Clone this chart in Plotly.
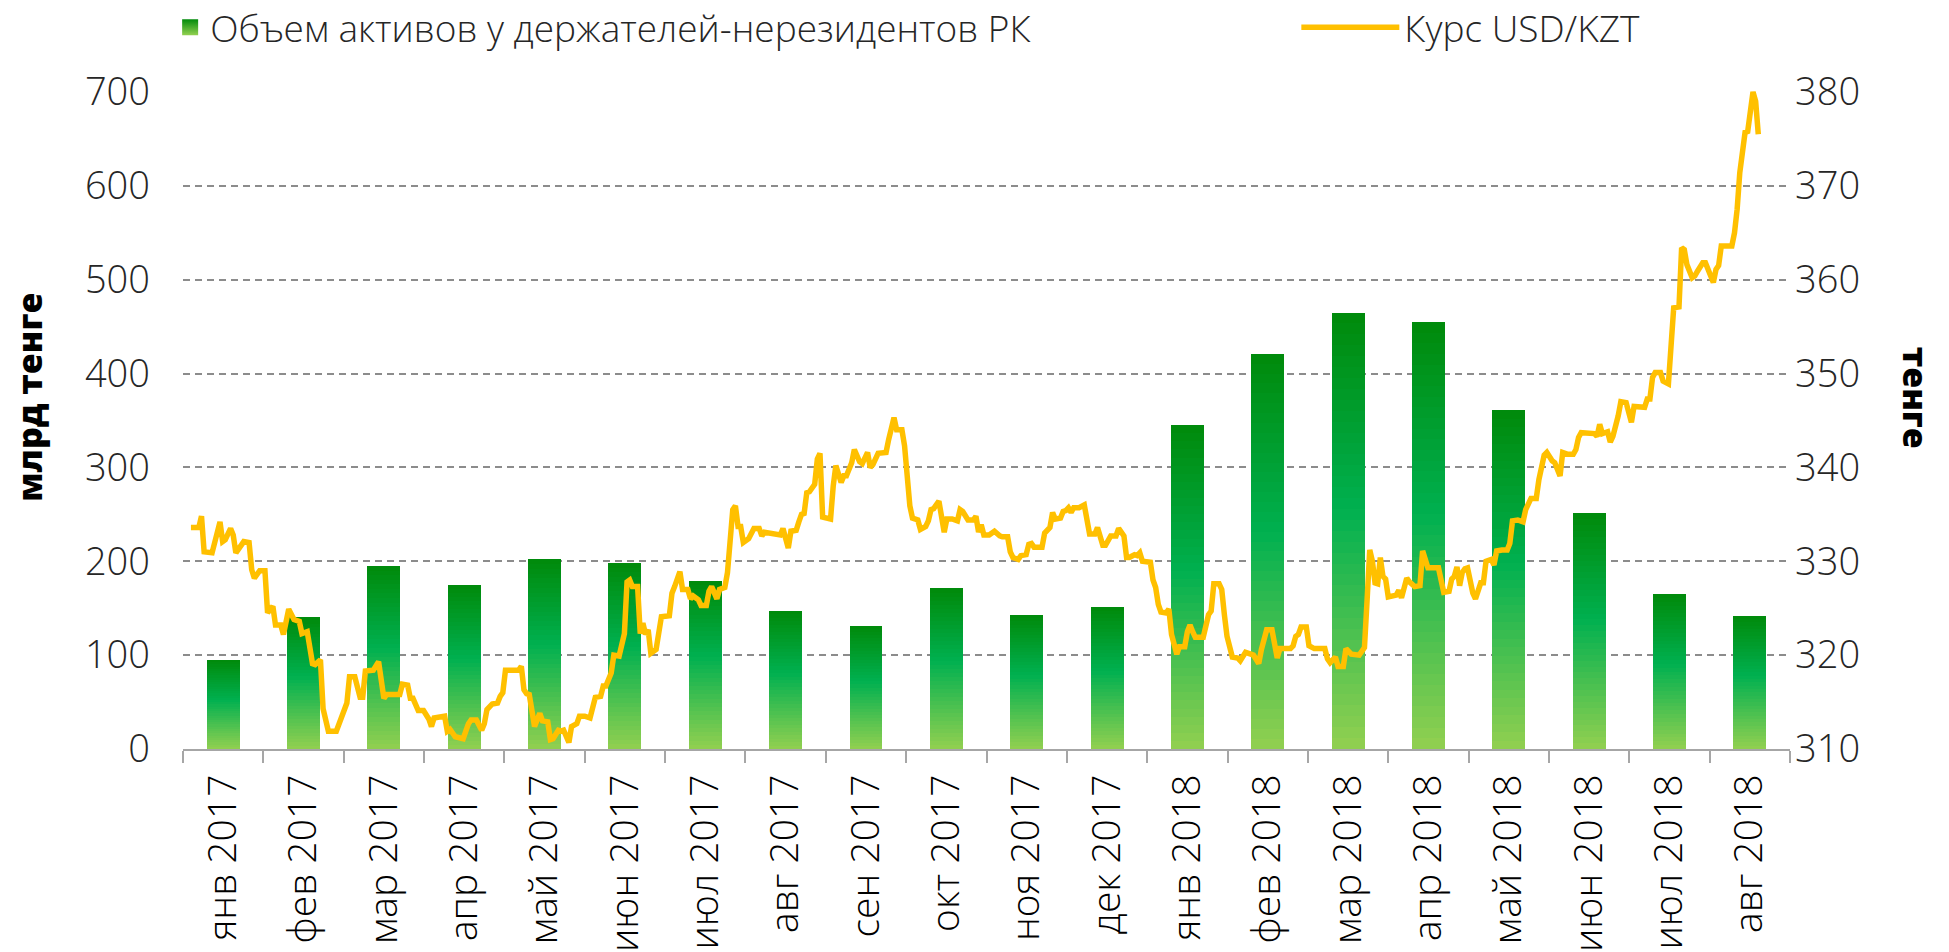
import plotly.graph_objects as go

# ---------------- data ----------------
months = ["янв 2017", "фев 2017", "мар 2017", "апр 2017", "май 2017", "июн 2017",
          "июл 2017", "авг 2017", "сен 2017", "окт 2017", "ноя 2017", "дек 2017",
          "янв 2018", "фев 2018", "мар 2018", "апр 2018", "май 2018", "июн 2018",
          "июл 2018", "авг 2018"]

assets = [95, 140.5, 195, 175, 202, 198, 179, 147, 131, 171, 143, 151,
          345, 421, 465, 455, 361, 251, 165, 142]

rate_dates = [
    "2017-01-04", "2017-01-07", "2017-01-08", "2017-01-09", "2017-01-12", "2017-01-14", "2017-01-15",
    "2017-01-16", "2017-01-17", "2017-01-19", "2017-01-20", "2017-01-21", "2017-01-24", "2017-01-26",
    "2017-01-27", "2017-01-28", "2017-01-30", "2017-02-01", "2017-02-02", "2017-02-04", "2017-02-05",
    "2017-02-07", "2017-02-08", "2017-02-10", "2017-02-12", "2017-02-14", "2017-02-15", "2017-02-17",
    "2017-02-19", "2017-02-20", "2017-02-22", "2017-02-23", "2017-02-25", "2017-02-28", "2017-03-01",
    "2017-03-02", "2017-03-04", "2017-03-05", "2017-03-07", "2017-03-09", "2017-03-10", "2017-03-11",
    "2017-03-14", "2017-03-16", "2017-03-18", "2017-03-19", "2017-03-24", "2017-03-25", "2017-03-27",
    "2017-03-28", "2017-03-29", "2017-03-31", "2017-04-02", "2017-04-04", "2017-04-05", "2017-04-06",
    "2017-04-10", "2017-04-11", "2017-04-12", "2017-04-14", "2017-04-17", "2017-04-19", "2017-04-20",
    "2017-04-22", "2017-04-24", "2017-04-25", "2017-04-26", "2017-04-28", "2017-04-30", "2017-05-01",
    "2017-05-02", "2017-05-03", "2017-05-08", "2017-05-09", "2017-05-10", "2017-05-11", "2017-05-12",
    "2017-05-14", "2017-05-16", "2017-05-17", "2017-05-19", "2017-05-20", "2017-05-21", "2017-05-23",
    "2017-05-24", "2017-05-25", "2017-05-27", "2017-05-28", "2017-05-30", "2017-05-31", "2017-06-02",
    "2017-06-04", "2017-06-06", "2017-06-08", "2017-06-09", "2017-06-10", "2017-06-12", "2017-06-13",
    "2017-06-15", "2017-06-17", "2017-06-18", "2017-06-19", "2017-06-20", "2017-06-22", "2017-06-23",
    "2017-06-24", "2017-06-25", "2017-06-26", "2017-06-27", "2017-06-29", "2017-07-01", "2017-07-04",
    "2017-07-05", "2017-07-06", "2017-07-08", "2017-07-09", "2017-07-11", "2017-07-12", "2017-07-13",
    "2017-07-15", "2017-07-16", "2017-07-18", "2017-07-19", "2017-07-20", "2017-07-21", "2017-07-22",
    "2017-07-23", "2017-07-25", "2017-07-26", "2017-07-27", "2017-07-28", "2017-07-29", "2017-07-30",
    "2017-07-31", "2017-08-01", "2017-08-03", "2017-08-05", "2017-08-07", "2017-08-08", "2017-08-09",
    "2017-08-12", "2017-08-15", "2017-08-16", "2017-08-18", "2017-08-19", "2017-08-21", "2017-08-22",
    "2017-08-23", "2017-08-24", "2017-08-25", "2017-08-26", "2017-08-28", "2017-08-29", "2017-08-30",
    "2017-08-31", "2017-09-03", "2017-09-04", "2017-09-05", "2017-09-07", "2017-09-08", "2017-09-09",
    "2017-09-11", "2017-09-12", "2017-09-14", "2017-09-15", "2017-09-17", "2017-09-18", "2017-09-19",
    "2017-09-21", "2017-09-24", "2017-09-25", "2017-09-27", "2017-09-28", "2017-09-30", "2017-10-01",
    "2017-10-02", "2017-10-03", "2017-10-04", "2017-10-05", "2017-10-06", "2017-10-07", "2017-10-09",
    "2017-10-10", "2017-10-11", "2017-10-12", "2017-10-14", "2017-10-16", "2017-10-17", "2017-10-19",
    "2017-10-21", "2017-10-22", "2017-10-23", "2017-10-25", "2017-10-27", "2017-10-28", "2017-10-29",
    "2017-10-30", "2017-10-31", "2017-11-02", "2017-11-04", "2017-11-06", "2017-11-07", "2017-11-09",
    "2017-11-10", "2017-11-11", "2017-11-13", "2017-11-14", "2017-11-16", "2017-11-17", "2017-11-18",
    "2017-11-19", "2017-11-22", "2017-11-23", "2017-11-25", "2017-11-26", "2017-11-27", "2017-11-29",
    "2017-11-30", "2017-12-01", "2017-12-02", "2017-12-03", "2017-12-04", "2017-12-06", "2017-12-08",
    "2017-12-10", "2017-12-12", "2017-12-13", "2017-12-15", "2017-12-16", "2017-12-18", "2017-12-20",
    "2017-12-21", "2017-12-23", "2017-12-24", "2017-12-25", "2017-12-27", "2017-12-28", "2017-12-29",
    "2017-12-30", "2018-01-02", "2018-01-03", "2018-01-04", "2018-01-05", "2018-01-06", "2018-01-08",
    "2018-01-09", "2018-01-10", "2018-01-12", "2018-01-13", "2018-01-15", "2018-01-16", "2018-01-17",
    "2018-01-18", "2018-01-19", "2018-01-22", "2018-01-23", "2018-01-24", "2018-01-25", "2018-01-26",
    "2018-01-28", "2018-01-29", "2018-01-30", "2018-01-31", "2018-02-02", "2018-02-04", "2018-02-05",
    "2018-02-07", "2018-02-09", "2018-02-10", "2018-02-12", "2018-02-13", "2018-02-15", "2018-02-17",
    "2018-02-19", "2018-02-20", "2018-02-24", "2018-02-25", "2018-02-26", "2018-02-27", "2018-02-28",
    "2018-03-02", "2018-03-03", "2018-03-05", "2018-03-09", "2018-03-10", "2018-03-11", "2018-03-13",
    "2018-03-14", "2018-03-16", "2018-03-17", "2018-03-19", "2018-03-22", "2018-03-24", "2018-03-25",
    "2018-03-26", "2018-03-27", "2018-03-28", "2018-03-29", "2018-03-30", "2018-03-31", "2018-04-01",
    "2018-04-02", "2018-04-04", "2018-04-05", "2018-04-06", "2018-04-07", "2018-04-09", "2018-04-10",
    "2018-04-12", "2018-04-14", "2018-04-15", "2018-04-17", "2018-04-21", "2018-04-23", "2018-04-25",
    "2018-04-26", "2018-04-27", "2018-04-28", "2018-04-29", "2018-04-30", "2018-05-01", "2018-05-02",
    "2018-05-04", "2018-05-05", "2018-05-07", "2018-05-08", "2018-05-09", "2018-05-11", "2018-05-12",
    "2018-05-13", "2018-05-15", "2018-05-17", "2018-05-18", "2018-05-19", "2018-05-21", "2018-05-23",
    "2018-05-24", "2018-05-25", "2018-05-26", "2018-05-28", "2018-05-29", "2018-05-31", "2018-06-01",
    "2018-06-03", "2018-06-04", "2018-06-06", "2018-06-07", "2018-06-09", "2018-06-11", "2018-06-12",
    "2018-06-13", "2018-06-14", "2018-06-16", "2018-06-19", "2018-06-20", "2018-06-21", "2018-06-22",
    "2018-06-24", "2018-06-25", "2018-06-26", "2018-06-28", "2018-06-29", "2018-07-01", "2018-07-03",
    "2018-07-04", "2018-07-06", "2018-07-08", "2018-07-09", "2018-07-10", "2018-07-11", "2018-07-12",
    "2018-07-14", "2018-07-15", "2018-07-17", "2018-07-18", "2018-07-19", "2018-07-21", "2018-07-22",
    "2018-07-23", "2018-07-24", "2018-07-26", "2018-07-27", "2018-07-28", "2018-07-30", "2018-07-31",
    "2018-08-02", "2018-08-03", "2018-08-04", "2018-08-05", "2018-08-06", "2018-08-07", "2018-08-10",
    "2018-08-11", "2018-08-12", "2018-08-13", "2018-08-14", "2018-08-15", "2018-08-16", "2018-08-18",
    "2018-08-19", "2018-08-20",
]

rate_values = [
    333.6, 333.6, 334.8, 331.0, 330.9, 333.0, 334.2,
    332.1, 332.3, 333.5, 332.8, 330.9, 332.1, 332.0,
    329.1, 328.2, 329.0, 329.0, 324.5, 325.2, 323.2,
    323.2, 322.2, 324.9, 323.8, 323.6, 322.3, 322.5,
    319.1, 319.0, 319.5, 314.3, 311.9, 311.9, 312.7,
    313.1, 314.9, 317.7, 317.7, 315.5, 315.5, 318.3,
    318.4, 319.3, 315.4, 315.8, 315.8, 316.9, 316.8,
    315.4, 315.4, 314.1, 314.1, 313.2, 312.4, 313.3,
    313.5, 311.9, 312.1, 311.3, 311.1, 312.7, 313.1,
    313.1, 312.0, 312.7, 314.2, 314.8, 314.9, 315.6,
    316.0, 318.4, 318.4, 318.8, 316.3, 315.9, 315.8,
    312.4, 313.8, 313.0, 312.9, 311.0, 311.1, 312.0,
    311.9, 312.0, 310.7, 312.4, 312.7, 313.5, 313.5,
    313.3, 315.5, 315.6, 316.7, 316.7, 318.1, 320.0,
    319.9, 322.3, 327.8, 328.0, 327.3, 327.3, 322.3,
    323.4, 322.2, 322.7, 320.2, 320.6, 324.1, 324.2,
    326.6, 327.3, 328.9, 327.0, 327.0, 326.0, 326.3,
    325.9, 325.3, 325.3, 326.8, 327.3, 326.7, 326.0,
    327.0, 327.2, 328.8, 331.6, 335.5, 335.9, 333.7,
    333.7, 332.0, 332.4, 333.5, 333.5, 332.7, 333.1,
    333.0, 332.8, 333.5, 331.4, 333.2, 333.3, 334.2,
    335.0, 335.1, 337.3, 337.4, 338.2, 340.9, 341.5,
    334.7, 334.5, 338.0, 340.2, 338.4, 339.1, 339.1,
    340.5, 341.9, 340.6, 340.4, 341.6, 340.0, 340.3,
    341.5, 341.6, 343.0, 345.3, 344.0, 344.0, 342.3,
    338.0, 335.9, 334.6, 334.5, 334.4, 333.4, 333.7,
    334.3, 335.5, 335.6, 336.4, 333.1, 334.5, 334.5,
    334.3, 335.5, 335.3, 334.4, 334.4, 334.8, 333.1,
    333.9, 332.8, 332.8, 333.2, 332.7, 332.6, 332.6,
    331.0, 330.4, 330.2, 330.6, 330.7, 331.8, 331.9,
    331.5, 331.5, 333.0, 333.6, 335.2, 334.5, 334.6,
    335.3, 335.4, 335.7, 335.2, 335.7, 335.7, 336.0,
    332.9, 332.9, 333.6, 331.7, 331.7, 332.7, 332.7,
    333.5, 332.7, 330.4, 330.4, 330.7, 330.6, 330.9,
    330.0, 329.9, 328.0, 327.2, 325.4, 324.6, 324.5,
    324.9, 322.2, 320.1, 320.9, 320.9, 322.5, 323.2,
    322.5, 321.9, 321.9, 322.9, 324.3, 324.7, 327.6,
    327.6, 327.0, 324.3, 322.0, 319.8, 319.7, 319.4,
    320.3, 320.1, 320.0, 319.1, 320.6, 322.7, 322.7,
    319.7, 320.7, 320.7, 321.0, 322.0, 322.2, 323.0,
    323.0, 321.0, 320.7, 320.7, 319.6, 319.2, 319.8,
    318.8, 318.8, 320.7, 320.1, 320.0, 320.8, 325.9,
    331.2, 330.0, 327.7, 327.6, 330.4, 328.4, 328.1,
    326.2, 326.4, 326.4, 326.9, 326.1, 328.2, 327.8,
    327.3, 327.4, 331.1, 329.3, 329.3, 326.7, 326.8,
    328.1, 328.4, 329.4, 327.4, 328.8, 329.2, 329.3,
    326.6, 326.0, 327.7, 327.7, 330.0, 330.2, 329.6,
    331.1, 331.2, 331.2, 331.9, 334.3, 334.4, 334.2,
    335.5, 336.2, 336.7, 336.7, 338.7, 341.3, 341.6,
    340.7, 340.5, 339.1, 341.6, 341.4, 341.4, 341.9,
    343.2, 343.7, 343.7, 343.6, 343.3, 344.6, 343.6,
    343.8, 342.7, 343.3, 345.5, 347.0, 346.9, 344.8,
    346.5, 346.4, 346.4, 347.3, 347.3, 349.6, 350.1,
    350.1, 349.2, 348.9, 353.0, 357.0, 357.1, 363.4,
    363.2, 361.6, 360.2, 360.4, 360.9, 361.8, 361.8,
    360.4, 359.7, 361.1, 361.5, 363.6, 363.6, 363.6,
    365.0, 367.5, 371.4, 374.2, 375.7, 375.8, 380.0,
    379.0, 375.5,
]

bar_name = "Объем активов у держателей-нерезидентов РК"
line_name = "Курс USD/KZT"
left_title = "млрд тенге"
right_title = "тенге"

# ---------------- styling ----------------
FONT = "Open Sans"
TEXT = "#262626"
GRID = "#8C8C8C"
AXIS = "#A6A6A6"
LINE = "#FFC000"

# vertical gradient of each bar (bottom -> top)
grad_stops = [(0.0, (146, 208, 80)), (0.55, (0, 176, 80)), (1.0, (0, 138, 10))]
N_SEG = 40


def grad_color(t):
    for (t0, c0), (t1, c1) in zip(grad_stops[:-1], grad_stops[1:]):
        if t0 <= t <= t1:
            f = (t - t0) / (t1 - t0)
            c = [round(a + (b - a) * f) for a, b in zip(c0, c1)]
            return "rgb(%d,%d,%d)" % tuple(c)
    return "rgb(%d,%d,%d)" % grad_stops[-1][1]


fig = go.Figure()

for k in range(N_SEG):
    t = (k + 0.5) / N_SEG
    fig.add_trace(go.Bar(
        x=months,
        y=[v / N_SEG for v in assets],
        marker=dict(color=grad_color(t), line=dict(width=0)),
        width=0.41,
        name=bar_name,
        legendgroup="bars",
        showlegend=False,
        hoverinfo="skip",
    ))

# legend entry for the bars: a square swatch with the same vertical gradient
fig.add_trace(go.Scatter(
    x=[None], y=[None],
    mode="markers",
    marker=dict(symbol="square", size=20, color="rgb(0,138,10)",
                gradient=dict(type="vertical", color="rgb(146,208,80)"),
                line=dict(width=0)),
    name=bar_name,
    legendgroup="bars",
    legend="legend",
    hoverinfo="skip",
))

fig.add_trace(go.Scatter(
    x=rate_dates,
    y=rate_values,
    mode="lines",
    line=dict(color=LINE, width=5.5),
    name=line_name,
    xaxis="x2",
    yaxis="y2",
    legend="legend2",
    hoverinfo="skip",
))

fig.update_layout(
    width=1949,
    height=952,
    paper_bgcolor="white",
    plot_bgcolor="white",
    barmode="stack",
    margin=dict(l=183, r=159, t=91, b=203, autoexpand=False),
    font=dict(family=FONT, color=TEXT),
    hovermode=False,
    xaxis=dict(
        type="category",
        automargin=False,
        tickangle=-90,
        tickfont=dict(family=FONT, size=39, color="#000000", weight=300),
        ticklabelstandoff=8,
        ticks="outside",
        tickson="boundaries",
        ticklen=12,
        tickwidth=2,
        tickcolor=AXIS,
        showline=True,
        linecolor=AXIS,
        linewidth=2,
        showgrid=False,
        zeroline=False,
    ),
    xaxis2=dict(
        type="date",
        overlaying="x",
        range=["2017-01-01", "2018-09-01"],
        visible=False,
    ),
    yaxis=dict(
        automargin=False,
        range=[0, 701],
        tickvals=[0, 100, 200, 300, 400, 500, 600, 700],
        showgrid=True,
        gridcolor=GRID,
        gridwidth=1.5,
        griddash="7px,5px",
        zeroline=False,
        showline=False,
        ticks="",
        ticklabelstandoff=32,
        tickfont=dict(family=FONT, size=38, color=TEXT, weight=300),
    ),
    yaxis2=dict(
        automargin=False,
        overlaying="y",
        side="right",
        range=[310, 380.1],
        tickvals=[310, 320, 330, 340, 350, 360, 370, 380],
        showgrid=False,
        zeroline=False,
        showline=False,
        ticks="",
        ticklabelstandoff=4,
        tickfont=dict(family=FONT, size=38, color=TEXT, weight=300),
    ),
    legend=dict(
        orientation="h",
        x=-0.008, xanchor="left",
        yref="container", y=0.971, yanchor="middle",
        font=dict(family=FONT, size=37, color=TEXT, weight=300),
        bgcolor="rgba(0,0,0,0)",
    ),
    legend2=dict(
        orientation="h",
        x=0.6928, xanchor="left",
        yref="container", y=0.971, yanchor="middle",
        itemwidth=98,
        font=dict(family=FONT, size=37, color=TEXT, weight=300),
        bgcolor="rgba(0,0,0,0)",
    ),
    annotations=[
        dict(
            text=left_title, textangle=-90,
            xref="paper", yref="paper", x=(29 - 183) / 1607, y=0.534,
            xanchor="center", yanchor="middle", showarrow=False,
            font=dict(family=FONT, size=34, color="#000000", weight=800),
        ),
        dict(
            text=right_title, textangle=90,
            xref="paper", yref="paper", x=1.0 + (1916 - 1790) / 1607, y=0.534,
            xanchor="center", yanchor="middle", showarrow=False,
            font=dict(family=FONT, size=34, color="#000000", weight=800),
        ),
    ],
)

fig.write_html("out.html", config={"displayModeBar": False},
               post_script="document.body.style.margin='0px';")
